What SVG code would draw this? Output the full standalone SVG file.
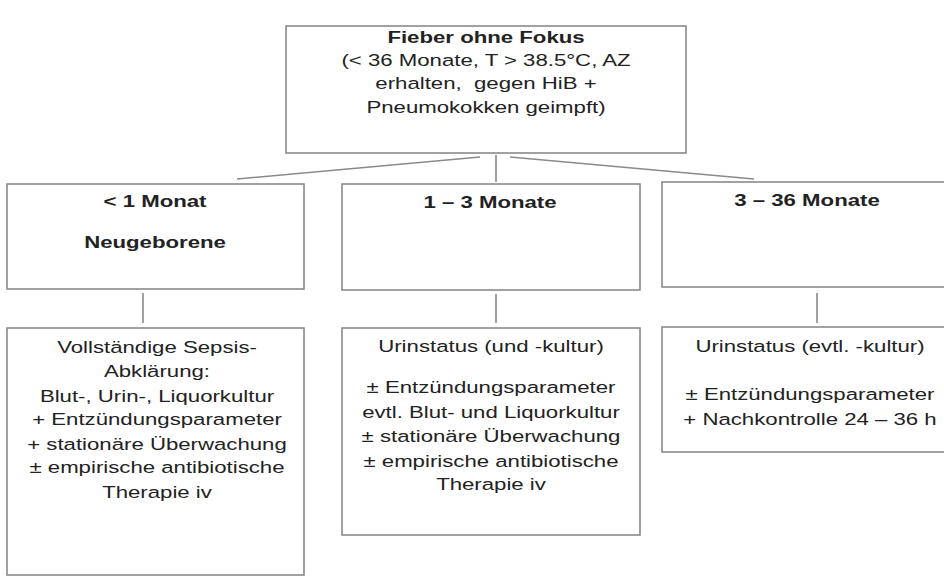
<svg xmlns="http://www.w3.org/2000/svg" width="944" height="576" viewBox="0 0 944 576">
<style>
  .box { fill: #ffffff; stroke: #8a8a8a; stroke-width: 1.6; }
  .con { stroke: #8a8a8a; stroke-width: 1.6; fill: none; }
  text { font-family: "Liberation Sans", Arial, sans-serif; font-size: 17.2px; fill: #222222; text-anchor: middle; }
  .b { font-weight: bold; }
</style>
<rect width="944" height="576" fill="#ffffff"/>
<g id="connectors">
  <line class="con" x1="480" y1="157" x2="237" y2="179"/>
  <line class="con" x1="496" y1="155" x2="496" y2="182"/>
  <line class="con" x1="510" y1="157" x2="754" y2="179"/>
  <line class="con" x1="143" y1="293" x2="143" y2="323"/>
  <line class="con" x1="496" y1="294" x2="496" y2="323"/>
  <line class="con" x1="817" y1="293" x2="817" y2="323"/>
</g>
<g id="root">
  <rect class="box" x="286" y="26" width="400" height="127"/>
  <g transform="translate(486,0) scale(1.29,1)">
    <text class="b" x="0" y="43">Fieber ohne Fokus</text>
    <text x="0" y="66">(&lt; 36 Monate, T &gt; 38.5°C, AZ</text>
    <text x="0" y="89" xml:space="preserve">erhalten,  gegen HiB +</text>
    <text x="0" y="113">Pneumokokken geimpft)</text>
  </g>
</g>
<g id="age1">
  <rect class="box" x="7" y="184" width="297" height="105"/>
  <g transform="translate(155,0) scale(1.29,1)">
    <text class="b" x="0" y="207">&lt; 1 Monat</text>
    <text class="b" x="0" y="248">Neugeborene</text>
  </g>
</g>
<g id="age2">
  <rect class="box" x="342" y="184" width="298" height="106"/>
  <g transform="translate(490,0) scale(1.29,1)">
    <text class="b" x="0" y="208">1 – 3 Monate</text>
  </g>
</g>
<g id="age3">
  <rect class="box" x="662" y="182" width="296" height="105"/>
  <g transform="translate(807,0) scale(1.29,1)">
    <text class="b" x="0" y="206">3 – 36 Monate</text>
  </g>
</g>
<g id="action1">
  <rect class="box" x="7" y="328" width="297" height="247"/>
  <g transform="translate(157,0) scale(1.29,1)">
    <text x="0" y="353">Vollständige Sepsis-</text>
    <text x="0" y="377">Abklärung:</text>
    <text x="0" y="402">Blut-, Urin-, Liquorkultur</text>
    <text x="0" y="425">+ Entzündungsparameter</text>
    <text x="0" y="450">+ stationäre Überwachung</text>
    <text x="0" y="473">± empirische antibiotische</text>
    <text x="0" y="498">Therapie iv</text>
  </g>
</g>
<g id="action2">
  <rect class="box" x="342" y="328" width="298" height="207"/>
  <g transform="translate(491,0) scale(1.29,1)">
    <text x="0" y="352">Urinstatus (und -kultur)</text>
    <text x="0" y="393">± Entzündungsparameter</text>
    <text x="0" y="418">evtl. Blut- und Liquorkultur</text>
    <text x="0" y="442">± stationäre Überwachung</text>
    <text x="0" y="467">± empirische antibiotische</text>
    <text x="0" y="490">Therapie iv</text>
  </g>
</g>
<g id="action3">
  <rect class="box" x="662" y="327" width="296" height="125"/>
  <g transform="translate(810,0) scale(1.29,1)">
    <text x="0" y="352">Urinstatus (evtl. -kultur)</text>
    <text x="0" y="400">± Entzündungsparameter</text>
    <text x="0" y="425">+ Nachkontrolle 24 – 36 h</text>
  </g>
</g>
</svg>
